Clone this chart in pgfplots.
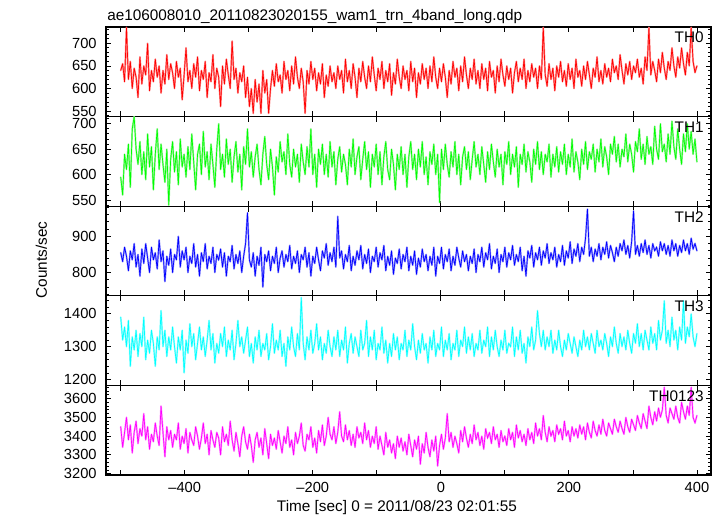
\documentclass[border=0pt]{standalone}
\usepackage{fontspec}
\setmainfont{Liberation Sans}
\usepackage{pgfplots}
\usepackage{pgfplotstable}
\pgfplotsset{compat=1.18}
\definecolor{cR}{RGB}{255,0,0}
\definecolor{cG}{RGB}{0,255,0}
\definecolor{cB}{RGB}{0,0,255}
\definecolor{cC}{RGB}{0,255,255}
\definecolor{cM}{RGB}{255,0,255}
\definecolor{eR}{RGB}{255,140,140}
\definecolor{eG}{RGB}{150,245,150}
\definecolor{eB}{RGB}{145,145,255}
\definecolor{eC}{RGB}{150,255,255}
\definecolor{eM}{RGB}{255,145,255}
\pgfplotstableread{
t a b c d e
-500 640 595 855 1390 3450
-497 655 560 830 1320 3340
-494 615 640 870 1360 3420
-491 735 610 845 1300 3500
-488 620 660 805 1380 3380
-485 660 575 860 1240 3460
-482 600 690 835 1330 3310
-479 645 714 880 1290 3420
-476 625 650 815 1350 3480
-473 580 620 850 1270 3360
-470 670 665 790 1340 3440
-467 610 600 865 1300 3400
-464 650 645 825 1390 3520
-461 630 590 880 1260 3380
-458 700 680 840 1320 3450
-455 595 615 800 1280 3330
-452 640 655 870 1350 3410
-449 615 570 835 1310 3370
-446 665 640 855 1240 3470
-443 625 690 810 1330 3400
-440 650 610 890 1290 3350
-437 590 660 830 1410 3560
-434 640 620 860 1300 3420
-431 610 585 775 1350 3290
-428 675 650 845 1270 3450
-425 620 540 820 1330 3380
-422 655 630 865 1290 3430
-419 635 665 800 1360 3340
-416 600 605 850 1300 3410
-413 660 645 835 1250 3380
-410 625 580 900 1330 3470
-407 645 670 815 1290 3330
-404 575 615 860 1350 3400
-401 630 640 835 1220 3360
-398 690 595 870 1320 3440
-395 615 655 800 1280 3310
-392 640 610 845 1370 3420
-389 600 680 825 1300 3380
-386 655 625 880 1340 3350
-383 625 570 815 1260 3450
-380 670 640 850 1310 3400
-377 595 660 790 1360 3330
-374 640 600 855 1290 3390
-371 620 685 830 1330 3470
-368 660 615 880 1270 3360
-365 580 645 810 1320 3410
-362 635 590 845 1380 3300
-359 615 660 825 1290 3430
-356 675 620 870 1340 3380
-353 600 575 800 1250 3340
-350 645 650 850 1310 3420
-347 625 700 835 1280 3390
-344 560 610 865 1340 3300
-341 650 640 815 1300 3450
-338 610 595 855 1360 3370
-335 665 670 790 1270 3410
-332 630 620 845 1320 3350
-329 600 650 830 1290 3480
-326 705 585 875 1350 3380
-323 620 635 810 1260 3320
-320 645 665 850 1310 3420
-317 590 605 825 1380 3360
-314 635 640 860 1300 3290
-311 615 570 800 1330 3400
-308 650 655 845 1280 3450
-305 580 620 880 1320 3370
-302 625 690 965 1360 3330
-299 560 615 835 1270 3410
-296 600 645 815 1310 3350
-293 545 595 855 1250 3260
-290 620 635 790 1330 3380
-287 570 660 845 1290 3420
-284 610 610 820 1350 3340
-281 545 580 870 1270 3390
-278 640 640 760 1310 3300
-275 590 675 850 1290 3440
-272 620 620 830 1340 3360
-269 545 590 860 1260 3280
-266 600 650 805 1300 3410
-263 640 615 845 1370 3350
-260 605 560 825 1280 3390
-257 655 635 870 1320 3330
-254 615 605 800 1290 3430
-251 630 665 840 1350 3370
-248 590 625 860 1270 3310
-245 660 645 815 1310 3400
-242 620 600 850 1240 3360
-239 640 680 830 1330 3450
-236 595 620 875 1290 3340
-233 650 595 810 1360 3380
-230 610 650 845 1300 3300
-227 670 615 825 1270 3420
-224 625 640 860 1340 3360
-221 600 585 800 1290 3400
-218 645 660 850 1450 3470
-215 615 625 835 1310 3350
-212 545 600 870 1260 3320
-209 640 655 815 1330 3410
-206 610 615 855 1290 3380
-203 660 690 790 1350 3450
-200 620 600 845 1280 3340
-197 645 640 825 1310 3390
-194 595 575 870 1370 3310
-191 635 650 835 1290 3430
-188 610 620 805 1330 3370
-185 655 660 860 1260 3460
-182 580 600 840 1310 3350
-179 630 640 880 1280 3400
-176 605 595 820 1350 3500
-173 650 665 855 1300 3410
-170 615 615 830 1270 3380
-167 635 645 870 1330 3450
-164 600 580 815 1290 3360
-161 650 630 955 1350 3420
-158 620 655 840 1270 3530
-155 640 605 860 1320 3400
-152 590 640 810 1290 3370
-149 665 620 850 1360 3460
-146 615 580 830 1250 3380
-143 640 650 875 1310 3430
-140 600 615 805 1340 3350
-137 655 670 845 1280 3410
-134 625 600 820 1330 3340
-131 580 635 860 1300 3450
-128 645 655 835 1270 3390
-125 615 590 875 1350 3420
-122 660 630 810 1290 3360
-119 625 665 850 1310 3470
-116 600 610 825 1380 3380
-113 650 645 865 1270 3430
-110 615 575 800 1330 3340
-107 670 640 845 1290 3400
-104 630 615 830 1350 3360
-101 595 660 870 1260 3450
-98 645 600 815 1310 3330
-95 620 645 855 1290 3400
-92 660 580 835 1360 3350
-89 600 635 875 1280 3300
-86 640 665 805 1320 3420
-83 615 610 845 1250 3340
-80 655 590 820 1310 3380
-77 585 650 860 1270 3310
-74 635 620 795 1340 3360
-71 610 570 840 1290 3280
-68 665 640 825 1330 3400
-65 625 610 865 1260 3340
-62 600 655 810 1310 3390
-59 650 600 850 1290 3320
-56 620 640 830 1350 3370
-53 640 575 870 1270 3300
-50 595 635 805 1320 3410
-47 660 665 845 1290 3350
-44 615 610 820 1370 3290
-41 645 640 860 1300 3380
-38 580 590 795 1260 3330
-35 635 650 840 1320 3400
-32 610 615 815 1280 3250
-29 655 665 865 1340 3360
-26 620 600 830 1290 3310
-23 645 635 850 1310 3420
-20 600 580 805 1250 3340
-17 650 645 845 1330 3290
-14 615 620 820 1290 3380
-11 670 660 870 1350 3320
-8 625 600 790 1270 3400
-5 600 640 845 1310 3240
-2 645 545 825 1290 3350
1 615 650 870 1360 3410
4 655 610 810 1270 3330
7 625 660 850 1320 3390
10 580 620 830 1290 3520
13 640 595 865 1340 3370
16 610 645 805 1260 3420
19 660 615 845 1310 3340
22 625 665 820 1290 3400
25 645 600 870 1350 3360
28 595 640 840 1270 3310
31 650 580 815 1320 3430
34 615 635 860 1300 3370
37 670 655 830 1360 3450
40 630 610 850 1280 3390
43 600 645 805 1330 3340
46 645 590 845 1290 3410
49 620 630 825 1340 3360
52 665 665 865 1270 3460
55 610 615 800 1310 3380
58 640 640 850 1290 3420
61 600 600 830 1350 3350
64 655 655 870 1280 3400
67 620 620 815 1320 3330
70 645 585 855 1300 3440
73 595 645 835 1360 3390
76 660 610 880 1270 3420
79 625 660 810 1330 3360
82 640 625 845 1290 3450
85 590 595 825 1350 3380
88 650 650 865 1300 3410
91 615 615 800 1270 3340
94 665 640 850 1320 3430
97 630 580 830 1290 3370
100 605 645 870 1350 3400
103 650 620 815 1280 3350
106 620 665 855 1310 3440
109 645 600 835 1300 3380
112 590 640 875 1360 3420
115 635 615 820 1270 3340
118 660 655 850 1330 3460
121 615 575 830 1290 3390
124 645 640 870 1350 3430
127 620 620 805 1280 3370
130 665 660 845 1310 3410
133 600 605 790 1250 3350
136 640 645 860 1330 3440
139 615 625 840 1300 3380
142 655 585 875 1360 3420
145 625 650 815 1290 3360
148 645 620 855 1320 3470
151 600 665 835 1410 3400
154 650 610 870 1340 3440
157 620 645 820 1300 3380
160 735 600 860 1350 3510
163 630 640 840 1290 3420
166 605 625 880 1330 3370
169 655 660 825 1300 3450
172 620 595 855 1350 3400
175 645 640 835 1280 3430
178 595 615 870 1320 3370
181 650 655 815 1290 3460
184 625 605 850 1350 3410
187 660 645 830 1300 3440
190 615 620 875 1270 3380
193 640 660 820 1320 3480
196 605 600 860 1290 3400
199 655 640 840 1340 3430
202 620 615 885 1310 3370
205 645 670 825 1280 3450
208 600 605 865 1330 3400
211 665 645 845 1300 3440
214 625 625 880 1270 3390
217 640 590 830 1320 3460
220 605 650 870 1290 3410
223 650 620 850 1350 3450
226 620 665 895 1300 3380
229 660 610 975 1330 3470
232 630 645 845 1290 3420
235 600 630 870 1340 3390
238 645 660 830 1310 3480
241 625 605 865 1280 3430
244 670 650 845 1350 3400
247 615 625 880 1300 3460
250 640 670 835 1320 3410
253 610 615 870 1290 3490
256 655 655 850 1340 3430
259 625 635 885 1310 3400
262 645 600 840 1270 3470
265 615 660 875 1330 3440
268 665 640 855 1300 3410
271 635 675 830 1360 3490
274 650 625 870 1310 3450
277 620 660 845 1280 3420
280 675 615 880 1340 3480
283 640 650 860 1300 3440
286 610 635 890 1330 3410
289 655 680 850 1290 3500
292 630 625 875 1350 3450
295 660 660 840 1310 3420
298 620 640 885 1280 3490
301 650 605 970 1340 3460
304 635 665 850 1310 3430
307 665 645 875 1370 3510
310 625 690 845 1300 3470
313 645 630 880 1340 3440
316 610 660 855 1290 3520
319 670 620 890 1350 3480
322 640 675 850 1320 3440
325 735 640 875 1290 3560
328 630 655 840 1360 3500
331 660 620 880 1310 3460
334 640 695 860 1340 3530
337 615 650 870 1290 3480
340 665 630 845 1380 3550
343 635 700 885 1320 3500
346 680 645 860 1350 3540
349 645 660 880 1440 3660
352 620 625 850 1310 3510
355 660 680 875 1350 3470
358 640 640 845 1300 3550
361 690 705 890 1390 3520
364 650 655 860 1320 3490
367 625 630 880 1350 3560
370 670 690 845 1290 3500
373 645 650 875 1360 3470
376 690 620 855 1320 3580
379 655 680 890 1440 3530
382 630 645 860 1310 3490
385 680 700 880 1360 3560
388 650 650 850 1330 3510
391 735 685 895 1400 3660
394 660 640 865 1330 3500
397 635 670 880 1300 3470
400 650 625 860 1340 3510
}\lc

\pgfplotsset{
  panel/.style={
    scale only axis, width=453.75pt, height=67.2pt,
    anchor=south west,
    xmin=-523, xmax=422,
    xtick={-500,-400,...,400}, xticklabels={},
    axis line style={line width=0.8pt, black},
    major tick length=4pt, minor tick length=2.5pt,
    every tick/.style={black, line width=0.6pt},
    tick align=inside,
    ticklabel style={font=\fontsize{11}{13}\selectfont},
    yticklabel style={xshift=-3.5pt},
    xticklabel style={yshift=-2pt},
    /pgf/number format/assume math mode=true,
    /pgf/number format/1000 sep={},
    clip=true,
  },
  halo/.style={#1, line width=1.3pt, line join=round, line cap=round, mark=none, forget plot},
  dat/.style={#1, line width=0.5pt, line join=miter, miter limit=4, mark=none},
}
\newcommand{\plab}[1]{\node[anchor=base east, inner sep=0pt, font=\fontsize{11.5}{13}\selectfont] at ([xshift=-5.3pt, yshift=-12pt]rel axis cs:1,1) {#1};}

\begin{document}
\begin{tikzpicture}
\useasboundingbox (0,0) rectangle (543pt,387pt);
% TH0
\begin{axis}[panel, at={(79.5pt,299.55pt)}, ymin=538, ymax=736,
  ytick={550,600,650,700}, minor ytick={540,550,...,730}]
\addplot[halo=eR] table[x=t,y=a]{\lc};
\addplot[dat=cR] table[x=t,y=a]{\lc};
\plab{TH0}
\end{axis}
% TH1
\begin{axis}[panel, at={(79.5pt,232.35pt)}, ymin=538, ymax=714,
  ytick={550,600,650,700}, minor ytick={540,550,...,710}]
\addplot[halo=eG] table[x=t,y=b]{\lc};
\addplot[dat=cG] table[x=t,y=b]{\lc};
\plab{TH1}
\end{axis}
% TH2
\begin{axis}[panel, at={(79.5pt,165.15pt)}, ymin=736, ymax=983,
  ytick={800,900}, minor ytick={740,760,...,980}]
\addplot[halo=eB] table[x=t,y=c]{\lc};
\addplot[dat=cB] table[x=t,y=c]{\lc};
\plab{TH2}
\end{axis}
% TH3
\begin{axis}[panel, at={(79.5pt,97.95pt)}, ymin=1182, ymax=1455,
  ytick={1200,1300,1400}, minor ytick={1200,1220,...,1440}]
\addplot[halo=eC] table[x=t,y=d]{\lc};
\addplot[dat=cC] table[x=t,y=d]{\lc};
\plab{TH3}
\end{axis}
% TH0123
\begin{axis}[panel, at={(79.5pt,30.75pt)}, ymin=3193, ymax=3670,
  ytick={3200,3300,3400,3500,3600}, minor ytick={3200,3220,...,3660},
  xticklabels={,\textendash400,,\textendash200,,0,,200,,400}]
\addplot[halo=eM] table[x=t,y=e]{\lc};
\addplot[dat=cM] table[x=t,y=e]{\lc};
\plab{TH0123}
\end{axis}
\node[anchor=base west, inner sep=0pt, font=\fontsize{11.5}{13}\selectfont] at (80.25pt,371.25pt) {ae106008010\_20110823020155\_wam1\_trn\_4band\_long.qdp};
\node[rotate=90, font=\fontsize{11.5}{13}\selectfont] at (31pt,192pt) {Counts/sec};
\node[anchor=base, inner sep=0pt, font=\fontsize{11.5}{13}\selectfont] at (297.7pt,3pt) {Time [sec] 0 = 2011/08/23 02:01:55};
\end{tikzpicture}
\end{document}
